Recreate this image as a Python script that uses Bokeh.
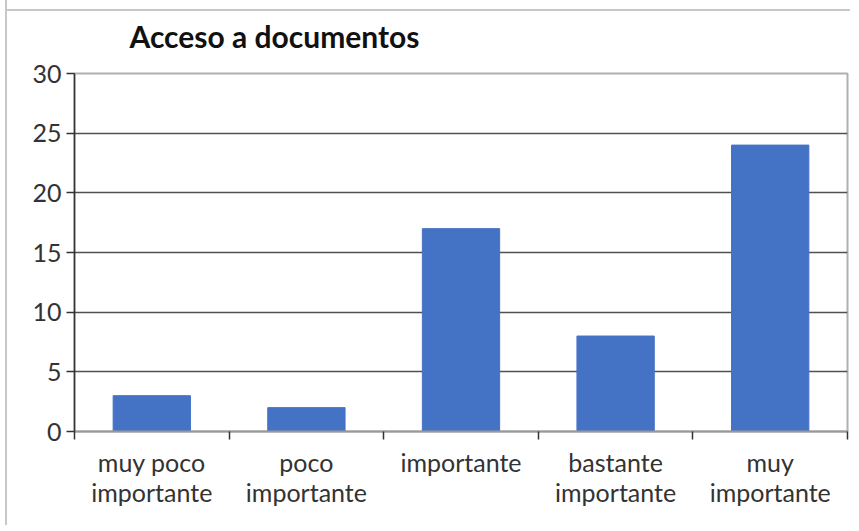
from bokeh.plotting import figure
from bokeh.models import FixedTicker, Range1d
from bokeh.embed import file_html
from bokeh.resources import INLINE

title_text = "Acceso a documentos"
categories = ["muy poco importante", "poco importante", "importante",
              "bastante importante", "muy importante"]
category_labels = ["muy poco\nimportante", "poco\nimportante", "importante",
                   "bastante\nimportante", "muy\nimportante"]
values = [3, 2, 17, 8, 24]
y_ticks = [0, 5, 10, 15, 20, 25, 30]

x_centers = [i + 0.5 for i in range(len(categories))]
x_bounds = [i for i in range(len(categories) + 1)]

FONT = "Lato"

p = figure(width=845, height=530, output_backend="svg", toolbar_location=None,
           x_range=Range1d(0, len(categories)), y_range=Range1d(0, 30),
           min_border_left=67, min_border_right=5, min_border_top=64,
           min_border_bottom=94)
p.border_fill_color = None
p.background_fill_color = "#ffffff"
p.styles = {"border-left": "2px solid #c8c8c8",
            "background": "linear-gradient(#c8c8c8, #c8c8c8) 0 14px / 100% 2px no-repeat, #ffffff",
            "margin-left": "5px", "margin-top": "-5px"}

p.title.text = title_text
p.title.text_font = FONT
p.title.text_font_size = "30px"
p.title.text_font_style = "bold"
p.title.text_color = "#111111"
p.title.text_line_height = 0.9
p.title.align = "left"
p.title.offset = 55
p.title.standoff = 40

p.vbar(x=x_centers, top=values, width=0.5, bottom=0, fill_color="#4472C4",
       line_color="#4472C4")

p.outline_line_color = "#b0b0b0"
p.outline_line_width = 2

# y axis
p.yaxis.ticker = FixedTicker(ticks=y_ticks)
p.yaxis.axis_line_color = "#333333"
p.yaxis.axis_line_width = 1.5
p.yaxis.major_tick_line_color = "#333333"
p.yaxis.major_tick_line_width = 1.5
p.yaxis.major_tick_in = 0
p.yaxis.major_tick_out = 8
p.yaxis.minor_tick_line_color = None
p.yaxis.major_label_text_font = FONT
p.yaxis.major_label_text_font_size = "25px"
p.yaxis.major_label_text_color = "#333333"
p.yaxis.major_label_standoff = 5

p.ygrid.ticker = FixedTicker(ticks=y_ticks)
p.ygrid.grid_line_color = "#505050"
p.ygrid.grid_line_width = 1.6
p.xgrid.grid_line_color = None

# x axis: labels at centers, ticks at boundaries
p.xaxis.ticker = FixedTicker(ticks=x_centers, minor_ticks=x_bounds)
p.xaxis.major_label_overrides = {x: lab for x, lab in zip(x_centers, category_labels)}
p.xaxis.major_tick_line_color = None
p.xaxis.minor_tick_line_color = "#333333"
p.xaxis.minor_tick_line_width = 1.5
p.xaxis.minor_tick_in = 0
p.xaxis.minor_tick_out = 8
p.xaxis.axis_line_color = "#999999"
p.xaxis.axis_line_width = 2
p.xaxis.major_label_text_font = FONT
p.xaxis.major_label_text_font_size = "25px"
p.xaxis.major_label_text_line_height = 1.03
p.xaxis.major_label_text_color = "#333333"
p.xaxis.major_label_standoff = 7

open("out.html", "w").write(file_html(p, INLINE))
